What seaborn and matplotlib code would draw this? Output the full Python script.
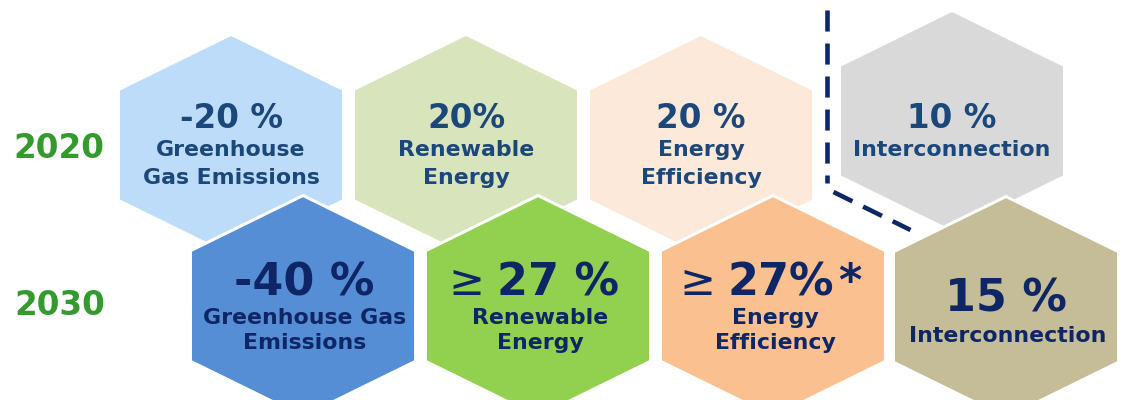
import numpy as np
import pandas as pd
import matplotlib
matplotlib.use("Agg")
import matplotlib.pyplot as plt
from matplotlib.path import Path
from matplotlib.markers import MarkerStyle
import seaborn as sns

# ---------------- data ----------------
years = ["2020", "2030"]
targets = ["Greenhouse Gas Emissions", "Renewable Energy", "Energy Efficiency", "Interconnection"]
values_2020 = [-20, 20, 20, 10]
values_2030 = [-40, 27, 27, 15]
sep_2020 = [" ", "", " ", " "]
sep_2030 = [" ", " ", "", " "]
prefix_2030 = ["", "\u2265", "\u2265", ""]
suffix_2030 = ["", "", "*", ""]
lines_2020 = [["Greenhouse", "Gas Emissions"], ["Renewable", "Energy"],
              ["Energy", "Efficiency"], ["Interconnection"]]
lines_2030 = [["Greenhouse Gas", "Emissions"], ["Renewable", "Energy"],
              ["Energy", "Efficiency"], ["Interconnection"]]
colors_2020 = ["#BDDCFA", "#D8E4BC", "#FDE9D9", "#D9D9D9"]
colors_2030 = ["#558ED5", "#92D050", "#FAC090", "#C4BD97"]

# ---------------- style ----------------
sns.set_theme(style="white")
plt.rcParams["font.family"] = ["DejaVu Sans"]

W, H = 1140, 400
fig = plt.figure(figsize=(W / 100, H / 100), dpi=100)
ax = fig.add_axes([0, 0, 1, 1])
ax.set_xlim(0, W)
ax.set_ylim(H, 0)
ax.axis("off")

# layout (pixel-like data units)
STEP = 235
row_x0 = {"2020": 231, "2030": 303}
row_y = {"2020": 145, "2030": 306}
ic_shift = {"2020": (16, -24), "2030": (-2, 1)}
HW, HR = 111, 109  # hexagon half-width, half-height

verts = [(0, HR), (HW, HR / 2), (HW, -HR / 2), (0, -HR), (-HW, -HR / 2), (-HW, HR / 2), (0, HR)]
hex_marker = MarkerStyle(Path(verts, closed=True))

def positions(year):
    xs, ys = [], []
    for i in range(len(targets)):
        dx, dy = ic_shift[year] if i == 3 else (0, 0)
        xs.append(row_x0[year] + i * STEP + dx)
        ys.append(row_y[year] + dy)
    return xs, ys

xs20, ys20 = positions("2020")
xs30, ys30 = positions("2030")
df20 = pd.DataFrame({"target": targets, "x": xs20, "y": ys20, "value": values_2020})
df30 = pd.DataFrame({"target": targets, "x": xs30, "y": ys30, "value": values_2030})

px2pt = 0.72
size20 = (2 * HW * px2pt) ** 2
size30 = ((2 * HW + 3) * px2pt) ** 2

sns.scatterplot(data=df20, x="x", y="y", hue="target",
                palette=dict(zip(targets, colors_2020)), marker=hex_marker,
                s=size20, linewidth=0, edgecolor="none", legend=False, ax=ax, zorder=1)
sns.scatterplot(data=df30, x="x", y="y", hue="target",
                palette=dict(zip(targets, colors_2030)), marker=hex_marker,
                s=size30, linewidth=3 * px2pt, edgecolor="white", legend=False, ax=ax, zorder=2)
ax.set_xlim(0, W)
ax.set_ylim(H, 0)
ax.set_xlabel("")
ax.set_ylabel("")

# ---------------- separator ----------------
navy = "#0E2766"
sep_x = ((xs20[2] + HW) + (xs20[3] - HW)) / 2
ax.plot([sep_x, sep_x], [10, 183], color=navy, lw=3.3, dashes=(4.6, 2.6),
        dash_capstyle="butt", zorder=3)
ax.plot([sep_x + 7, sep_x + 84], [192, 230], color=navy, lw=3.3, dashes=(4.6, 2.6),
        dash_capstyle="butt", zorder=3)

# ---------------- text ----------------
green = "#349A2E"
txt20 = "#1B477A"
txt30 = "#0F2666"
LBL = 15.8

ax.text(59, 157.5, years[0], ha="center", va="baseline", fontsize=23.5,
        fontweight="bold", color=green, zorder=4)
ax.text(60, 315, years[1], ha="center", va="baseline", fontsize=23.5,
        fontweight="bold", color=green, zorder=4)

# 2020 row
base20 = [128, 156.5, 184]
for i, t in enumerate(targets):
    x = xs20[i]
    ax.text(x, base20[0], f"{values_2020[i]}{sep_2020[i]}%", ha="center", va="baseline",
            fontsize=23.5, fontweight="bold", color=txt20, zorder=4)
    for k, line in enumerate(lines_2020[i]):
        ax.text(x, base20[k + 1], line, ha="center", va="baseline", fontsize=LBL,
                fontweight="bold", color=txt20, zorder=4)

# 2030 row
num_dx = [1, 20, 8, 0]
for i, t in enumerate(targets):
    x = xs30[i]
    if len(lines_2030[i]) == 1:
        bl = [311.5, 341.5]
    else:
        bl = [295, 324.5, 349]
    nt = ax.text(x + num_dx[i], bl[0], f"{values_2030[i]}{sep_2030[i]}%", ha="center",
                 va="baseline", fontsize=32, fontweight="bold", color=txt30, zorder=4)
    if prefix_2030[i]:
        ax.annotate(prefix_2030[i], xy=(0, 0), xycoords=nt, xytext=(-9, 0),
                    textcoords="offset points", ha="right", va="bottom", fontsize=31,
                    fontweight="normal", color=txt30, zorder=4)
    if suffix_2030[i]:
        ax.annotate(suffix_2030[i], xy=(1, 0), xycoords=nt, xytext=(3, 0),
                    textcoords="offset points", ha="left", va="bottom", fontsize=32,
                    fontweight="bold", color=txt30, zorder=4)
    for k, line in enumerate(lines_2030[i]):
        ax.text(x + 2, bl[k + 1], line, ha="center", va="baseline", fontsize=LBL,
                fontweight="bold", color=txt30, zorder=4)

fig.savefig("out.png", dpi=100)
